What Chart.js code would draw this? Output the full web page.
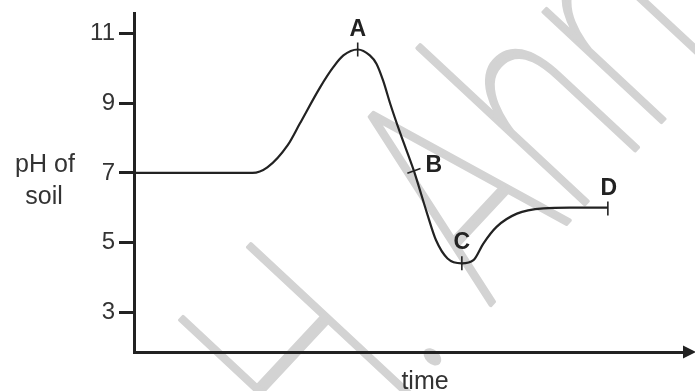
<!DOCTYPE html>
<html>
<head>
<meta charset="utf-8">
<script src="https://cdn.jsdelivr.net/npm/chart.js@4.4.1/dist/chart.umd.min.js"></script>
<style>
  html, body { margin: 0; padding: 0; background: #fff; }
  #wrap { width: 695px; height: 391px; }
</style>
</head>
<body>
<div id="wrap"><canvas id="phChart" width="695" height="391"></canvas></div>
<script>
// time in arbitrary units (0 = origin, 100 = start of the arrow head), pH
const timeValues = [0, 21.5, 24.2, 27.9, 30.1, 33.8, 36.2, 38.0, 40.6, 42.8, 44.0, 45.2, 46.5, 48.3, 50.8, 53.2, 54.8, 56.9, 59.5, 61.6, 63.4, 65.8, 69.5, 74.3, 79.1, 86.0];
const phValues = [7, 7, 7.16, 7.8, 8.42, 9.47, 10.05, 10.38, 10.55, 10.38, 10.14, 9.66, 8.99, 8.15, 7.06, 5.83, 5.07, 4.54, 4.40, 4.49, 4.97, 5.45, 5.83, 5.98, 6.0, 6.0];

// marked points on the curve
const markLabels = ['A', 'B', 'C', 'D'];
const markTimes = [40.6, 50.8, 59.5, 86.0];
const markPh = [10.55, 7.06, 4.40, 5.98];

const yTicks = [3, 5, 7, 9, 11];

const INK = '#222';
const TXT = '#333';

// tick mark direction (perpendicular to the curve) and label offsets
const markRotation = [90, -20, 90, 90];
const labelOffset = [[0, -14], [20, 1], [0, -14], [1, -13]];

const watermark = {
  id: 'watermark',
  beforeDraw(chart) {
    const ctx = chart.ctx;
    ctx.save();
    ctx.translate(488, 308);
    ctx.rotate(-47 * Math.PI / 180);
    ctx.scale(0.68, 1);
    ctx.font = '100 305px Roboto';
    ctx.fillStyle = '#d3d3d3';
    ctx.strokeStyle = '#d3d3d3';
    ctx.lineWidth = 4;
    ctx.lineJoin = 'round';
    ctx.textBaseline = 'alphabetic';
    ctx.textAlign = 'left';
    const lead = ctx.measureText('A. H. ').width;
    ctx.fillText('A. H. Ahmed', -lead, 0);
    ctx.strokeText('A. H. Ahmed', -lead, 0);
    ctx.restore();
  }
};

const decorations = {
  id: 'decorations',
  afterDraw(chart) {
    const ctx = chart.ctx;
    const area = chart.chartArea;
    ctx.save();

    // arrow head on the time axis
    ctx.fillStyle = INK;
    ctx.beginPath();
    ctx.moveTo(area.right - 2, area.bottom - 6.5);
    ctx.lineTo(area.right + 11, area.bottom);
    ctx.lineTo(area.right - 2, area.bottom + 6.5);
    ctx.closePath();
    ctx.fill();

    // axis titles
    ctx.fillStyle = TXT;
    ctx.textAlign = 'center';
    ctx.textBaseline = 'alphabetic';
    ctx.font = '25px "Liberation Sans", Arial, sans-serif';
    ctx.fillText('pH of', 45, 172);
    ctx.fillText('soil', 44, 204);
    ctx.fillText('time', 425, 389);

    // point letters
    const meta = chart.getDatasetMeta(1);
    ctx.fillStyle = INK;
    ctx.font = 'bold 23px "Liberation Sans", Arial, sans-serif';
    meta.data.forEach((pt, i) => {
      ctx.fillText(markLabels[i], pt.x + labelOffset[i][0], pt.y + labelOffset[i][1]);
    });
    ctx.restore();
  }
};

new Chart(document.getElementById('phChart'), {
  type: 'line',
  data: {
    datasets: [
      {
        data: timeValues.map((t, i) => ({ x: t, y: phValues[i] })),
        borderColor: INK,
        borderWidth: 2.2,
        pointRadius: 0,
        cubicInterpolationMode: 'monotone',
        fill: false
      },
      {
        data: markTimes.map((t, i) => ({ x: t, y: markPh[i] })),
        showLine: false,
        pointStyle: 'line',
        pointRadius: 7,
        pointRotation: markRotation,
        borderColor: INK,
        pointBorderColor: INK,
        pointBorderWidth: 1.6
      }
    ]
  },
  options: {
    responsive: false,
    animation: false,
    devicePixelRatio: 1,
    layout: { padding: { top: 13, right: 10, left: 0, bottom: 0 } },
    plugins: { legend: { display: false }, tooltip: { enabled: false } },
    scales: {
      x: {
        type: 'linear',
        min: 0,
        max: 100,
        grid: { display: false },
        border: { color: INK, width: 3 },
        ticks: { display: false },
        afterFit(s) { s.height = 39; s.paddingLeft = 0; s.paddingRight = 0; }
      },
      y: {
        min: 1.85,
        max: 11.6,
        afterBuildTicks(s) { s.ticks = yTicks.map(v => ({ value: v })); },
        grid: { drawOnChartArea: false, tickLength: 15, tickColor: INK, tickWidth: 3 },
        border: { color: INK, width: 3 },
        ticks: {
          padding: 4,
          color: TXT,
          font: { family: '"Liberation Sans", Arial, sans-serif', size: 24 }
        },
        afterFit(s) { s.width = 134; s.paddingTop = 0; s.paddingBottom = 0; }
      }
    }
  },
  plugins: [watermark, decorations]
});
</script>
</body>
</html>
